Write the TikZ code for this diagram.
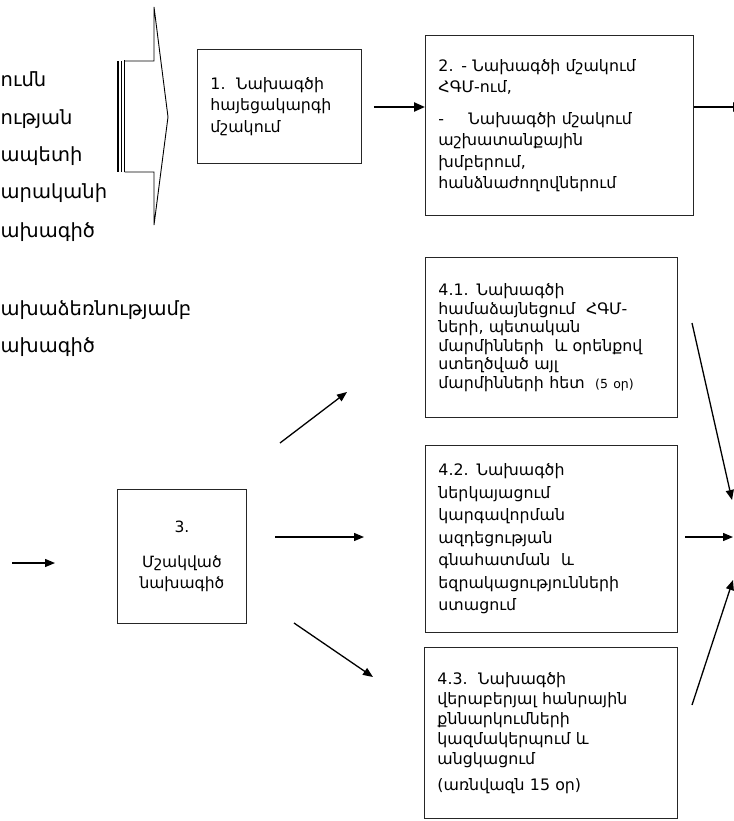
\documentclass[tikz,border=0pt]{standalone}
\usepackage{fontspec}
\setmainfont{DejaVu Sans}
\usetikzlibrary{arrows.meta,calc}
\begin{document}
\begin{tikzpicture}[x=1pt,y=-1pt,
  boxnode/.style={draw=black!85,line width=0.9pt,anchor=north west,inner xsep=13pt,inner ysep=0pt,align=left,
    font=\fontsize{15.8}{21.5}\selectfont},
  thinarrow/.style={line width=1.3pt,-{Triangle[length=10pt,width=8pt]}},
  thickarrow/.style={line width=2.2pt,-{Triangle[length=11pt,width=9pt]}},
  frag/.style={anchor=base west,inner sep=0pt,font=\fontsize{19.5}{22}\selectfont}
]
\useasboundingbox (0,0) rectangle (733,821);

% left fragments
\node[frag] (l1) at (0.5,87) {ումն};
\node[frag] (l2) at (0.5,125) {ության};
\node[frag] (l3) at (0.5,162) {ապետի};
\node[frag] (l4) at (0.5,198) {արականի};
\node[frag] (l5) at (0.5,237) {ախագիծ};
\node[frag] (l6) at (0.5,315) {ախաձեռնությամբ};
\node[frag] (l7) at (0.5,352) {ախագիծ};

% block arrow
\draw[line width=0.9pt,line join=miter] (124.5,61) -- (154,61) -- (154,7) -- (168,117) -- (154,225) -- (154,172) -- (124.5,172);
\draw[line width=2.3pt] (118,61) -- (118,172);
\draw[line width=1pt] (121.5,61) -- (121.5,172);
\draw[line width=1.2pt] (124.5,60.5) -- (124.5,172.5);

% boxes
\node[boxnode,minimum width=164pt,minimum height=114pt,text width=138pt,inner xsep=13pt] (b1) at (197,49)
  {1.\ \ Նախագծի\\հայեցակարգի\\մշակում};
\node[boxnode,minimum width=268pt,minimum height=180pt,text width=242pt] (b2) at (425,35)
  {2. - Նախագծի մշակում\\ՀԳՄ-ում,\\[10pt]\makebox[30pt][l]{-}Նախագծի մշակում\\աշխատանքային\\խմբերում,\\հանձնաժողովներում};
\node[boxnode,minimum width=252pt,minimum height=160pt,text width=226pt,font=\fontsize{15.8}{18.5}\selectfont] (b41) at (425,257)
  {4.1. Նախագծի\\համաձայնեցում\ \ ՀԳՄ-\\ների, պետական\\մարմինների\ \ և օրենքով\\ստեղծված այլ\\մարմինների հետ\ \ {\fontsize{12.5}{14}\selectfont(5 օր)}};
\node[boxnode,minimum width=252pt,minimum height=187pt,text width=226pt,font=\fontsize{15.8}{22.5}\selectfont] (b42) at (425,445)
  {4.2. Նախագծի\\ներկայացում\\կարգավորման\\ազդեցության\\գնահատման\ \ և\\եզրակացությունների\\ստացում};
\node[boxnode,minimum width=253pt,minimum height=171pt,text width=227pt,font=\fontsize{15.8}{20}\selectfont] (b43) at (424,647)
  {4.3.\ \ Նախագծի\\վերաբերյալ հանրային\\քննարկումների\\կազմակերպում և\\անցկացում\\[6pt](առնվազն 15 օր)};
\node[boxnode,minimum width=129pt,minimum height=134pt,text width=103pt,align=center,font=\fontsize{15.5}{21}\selectfont] (b3) at (117,489)
  {3.\\[14pt]Մշակված\\նախագիծ};

% free ends
\coordinate (in3a) at (12,563);
\coordinate (in3b) at (55,563);
\coordinate (s41) at (280,443);
\coordinate (e41) at (347,392);
\coordinate (s42) at (275,537);
\coordinate (e42) at (364,537);
\coordinate (s43) at (294,623);
\coordinate (e43) at (373,677);
\coordinate (r1s) at (692,323);
\coordinate (r1e) at (732,500);
\coordinate (r2s) at (685,537);
\coordinate (r2e) at (733,537);
\coordinate (r3s) at (692,705);
\coordinate (r3e) at (733,580);
\coordinate (out2) at (744,107);

% connectors
\draw[thickarrow] ([xshift=12pt]b1.east |- 0,107) -- (b2.west |- 0,107);
\draw[thickarrow] (b2.east |- 0,107) -- (out2);
\draw[thinarrow] (in3a) -- (in3b);
\draw[thinarrow] (s41) -- (e41);
\draw[thinarrow] (s42) -- (e42);
\draw[thinarrow] (s43) -- (e43);
\draw[thinarrow] (r1s) -- (r1e);
\draw[thinarrow] (r2s) -- (r2e);
\draw[thinarrow] (r3s) -- (r3e);
\end{tikzpicture}
\end{document}
